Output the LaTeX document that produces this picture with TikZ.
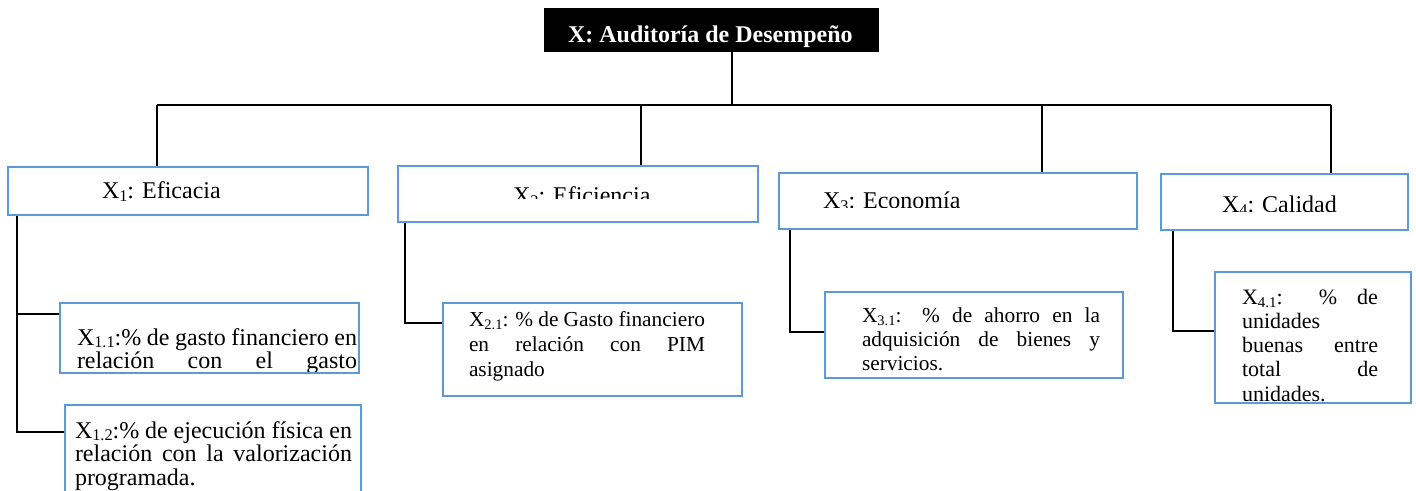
\documentclass[tikz,border=0pt]{standalone}
\usepackage{fontspec}
\setmainfont{Liberation Serif}
\usetikzlibrary{fit}
\definecolor{boxblue}{RGB}{91,155,213}
\newcommand\lowsub[1]{\raisebox{-0.12em}{\fontsize{0.68em}{0.7em}\selectfont #1}}
\begin{document}
\begin{tikzpicture}[x=0.75pt,y=-0.75pt,
  bluebox/.style={draw=boxblue, line width=2.2pt, inner sep=0pt},
  conn/.style={draw=black, line width=1.4pt},
  txt/.style={anchor=base west, inner sep=0pt, outer sep=0pt},
  big/.style={font=\fontsize{18}{20}\selectfont},
  mid/.style={font=\fontsize{16}{18}\selectfont},
  midb/.style={font=\fontsize{16.5}{18}\selectfont}
]
\useasboundingbox (0,0) rectangle (1416,491);
\clip (0,0) rectangle (1416,491);

% root
\node[fill=black, inner sep=0pt, fit={(544,8) (879,52)}] (root) {};
\node[txt, text=white, font=\fontsize{18}{20}\selectfont\bfseries] (roottxt) at (568,43) {X: Auditoría de Desempeño};

% boxes
\node[bluebox, fit={(8,167) (368,215)}] (x1) {};
\node[bluebox, fit={(398,166) (758,222)}] (x2) {};
\node[bluebox, fit={(779,173) (1137,229)}] (x3) {};
\node[bluebox, fit={(1161,174) (1408,230)}] (x4) {};
\node[bluebox, fit={(60,303) (359,373)}] (x11) {};
\node[bluebox, fit={(65,405) (361,540)}] (x12) {};
\node[bluebox, fit={(443,303) (742,396)}] (x21) {};
\node[bluebox, fit={(825,292) (1123,378)}] (x31) {};
\node[bluebox, fit={(1215,272) (1411,403)}] (x41) {};

% connectors
\coordinate (bus) at (732,105);
\coordinate (busL) at (157,105);
\coordinate (busR) at (1331,105);
\coordinate (d2) at (641,105);
\coordinate (d3) at (1042,105);
\draw[conn] (root.south -| bus) -- (bus);
\draw[conn] (busL) -- (busR);
\draw[conn] (busL) -- (busL |- x1.north);
\draw[conn] (d2) -- (d2 |- x2.north);
\draw[conn] (d3) -- (d3 |- x3.north);
\draw[conn] (busR) -- (busR |- x4.north);

\coordinate (s1) at (17,0);
\coordinate (b11) at (0,314);
\coordinate (b12) at (0,432);
\draw[conn] (s1 |- x1.south) -- (s1 |- b12) -- (x12.west |- b12);
\draw[conn] (s1 |- b11) -- (x11.west |- b11);

\coordinate (s2) at (405,0);
\coordinate (b21) at (0,323);
\draw[conn] (s2 |- x2.south) |- (x21.west |- b21);

\coordinate (s3) at (790,0);
\coordinate (b31) at (0,332);
\draw[conn] (s3 |- x3.south) |- (x31.west |- b31);

\coordinate (s4) at (1173,0);
\coordinate (b41) at (0,331);
\draw[conn] (s4 |- x4.south) |- (x41.west |- b41);

% heading texts
\node[txt, big] (t1) at (102,199) {X\lowsub{1}: Eficacia};
\begin{scope}
  \clip (398,166) rectangle (758,199);
  \node[txt, big] (t2) at (513,204) {X\lowsub{2}: Eficiencia};
\end{scope}
\begin{scope}
  \clip (779,173) rectangle (1137,208);
  \node[txt, big] (t3) at (823,209) {X\lowsub{3}: Economía};
\end{scope}
\begin{scope}
  \clip (1161,174) rectangle (1408,212);
  \node[txt, big] (t4) at (1222,213) {X\lowsub{4}: Calidad};
\end{scope}

% X1.1
\begin{scope}
  \clip (60,303) rectangle (359,371.5);
  \node[txt, big] (t11a) at (77,345) {\makebox[210pt][s]{X\lowsub{1.1}:\% de gasto financiero en}};
  \node[txt, big] (t11b) at (77,368.5) {\makebox[210pt][s]{relación con el gasto}};
\end{scope}

% X1.2
\node[txt, big] (t12a) at (75,438) {\makebox[207.75pt][s]{X\lowsub{1.2}:\% de ejecución física en}};
\node[txt, big] (t12b) at (75,461.5) {\makebox[207.75pt][s]{relación con la valorización}};
\node[txt, big] (t12c) at (75,485) {programada.};

% X2.1
\node[txt, mid] (t21a) at (469,327) {\makebox[177pt][s]{X\lowsub{2.1}: \% de Gasto financiero}};
\node[txt, mid] (t21b) at (469,352) {\makebox[177pt][s]{en relación con PIM}};
\node[txt, mid] (t21c) at (469,377) {asignado};

% X3.1
\node[txt, mid] (t31a) at (862,322.5) {\makebox[178.5pt][s]{X\lowsub{3.1}: \% de ahorro en la}};
\node[txt, mid] (t31b) at (862,346.5) {\makebox[178.5pt][s]{adquisición de bienes y}};
\node[txt, mid] (t31c) at (862,370.5) {servicios.};

% X4.1
\begin{scope}
  \clip (1215,272) rectangle (1411,401.5);
  \node[txt, midb] (t41a) at (1242,305) {\makebox[102pt][s]{X\lowsub{4.1}: \% de}};
  \node[txt, midb] (t41b) at (1242,329) {unidades};
  \node[txt, midb] (t41c) at (1242,353) {\makebox[102pt][s]{buenas entre}};
  \node[txt, midb] (t41d) at (1242,377) {\makebox[102pt][s]{total de}};
  \node[txt, midb] (t41e) at (1242,401) {unidades.};
\end{scope}
\end{tikzpicture}
\end{document}
